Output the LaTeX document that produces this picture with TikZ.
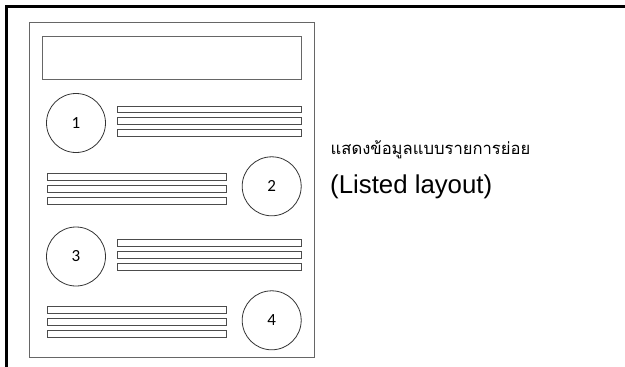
\documentclass[tikz,border=0pt]{standalone}
\usepackage{fontspec}
\setmainfont{Liberation Sans}
\newfontfamily\thaifont[Script=Thai]{Loma}
\newfontfamily\numfont{Carlito}
\begin{document}
\begin{tikzpicture}[x=1pt,y=-1pt,
  frame/.style={draw=black,line width=2.2pt},
  pagebox/.style={draw=black!60,line width=1pt},
  bar/.style={draw=black!70,line width=0.9pt},
  numcircle/.style={circle,draw=black!80,line width=0.8pt,minimum size=59pt,inner sep=0pt,font=\numfont\fontsize{17}{19}\selectfont},
  label/.style={anchor=base west,inner sep=0pt}]
\useasboundingbox (0,0) rectangle (625,367);
% outer frame (top and left edges)
\coordinate (ftl) at (6.5,6.5);
\coordinate (ftr) at (625,6.5);
\coordinate (fbl) at (6.5,367);
\draw[frame] (ftr) -- (ftl) -- (fbl);
% page
\draw[pagebox] (29.5,22.5) rectangle (314,357.5);
% header
\draw[pagebox] (42,36) rectangle (301.5,79);
% circles
\node[numcircle] (c1) at (76,123) {1};
\node[numcircle] (c2) at (271.7,186.3) {2};
\node[numcircle] (c3) at (76,256.5) {3};
\node[numcircle] (c4) at (271.7,320.3) {4};
% bars group 1 (right)
\foreach \y in {106,117.7,129.3} \draw[bar] (117,\y) rectangle (301,\y+6.7);
% bars group 2 (left)
\foreach \y in {173.3,185.3,197.3} \draw[bar] (47.3,\y) rectangle (226.7,\y+6.7);
% bars group 3 (right)
\foreach \y in {239.3,251.3,263.3} \draw[bar] (117,\y) rectangle (301,\y+6.7);
% bars group 4 (left)
\foreach \y in {306.7,318.7,330.7} \draw[bar] (47.3,\y) rectangle (226.7,\y+6.7);
% texts
\node[label,font=\thaifont\fontsize{16.6}{19}\selectfont] (t1) at (330.5,154) {แสดงข้อมูลแบบรายการย่อย};
\node[label,font=\fontsize{25.8}{29}\selectfont] (t2) at (330,193.5) {(Listed layout)};
\end{tikzpicture}
\end{document}
